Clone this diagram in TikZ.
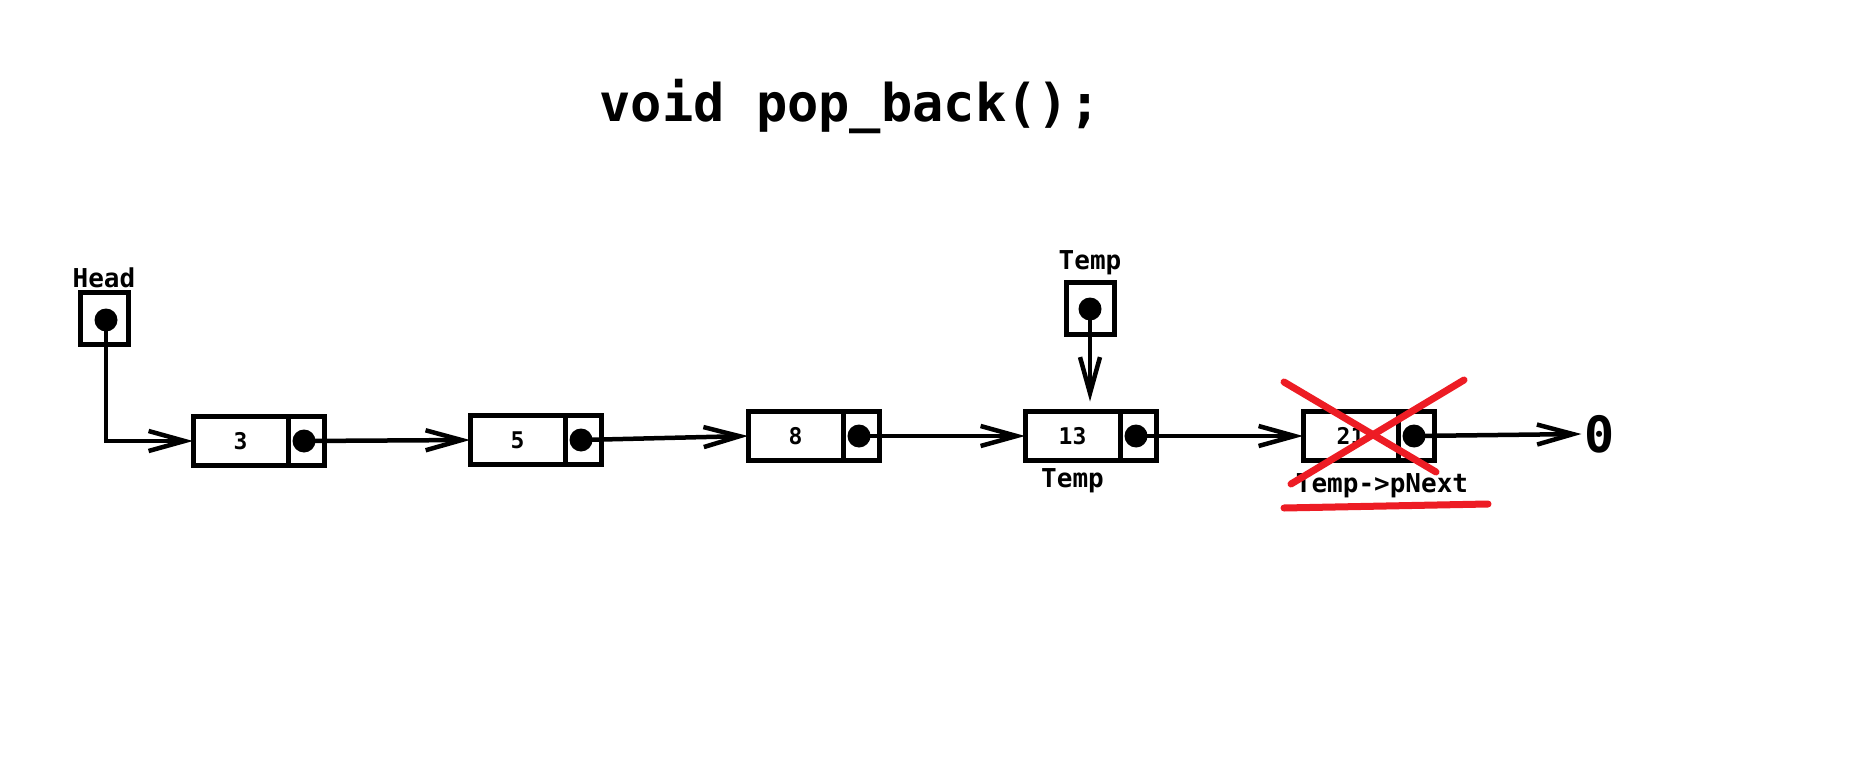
\documentclass[tikz,border=0pt]{standalone}
\usepackage{fontspec}
\setmainfont{DejaVu Sans Mono}
\usetikzlibrary{positioning,arrows.meta}
\definecolor{xred}{RGB}{237,28,36}

\begin{document}
\begin{tikzpicture}[x=1pt,y=-1pt,
    val/.style={draw,line width=5pt,minimum width=95pt,minimum height=49pt,inner sep=0pt,outer sep=0pt,font=\fontsize{23}{23}\selectfont\bfseries},
    ptr/.style={draw,line width=5pt,minimum width=36pt,minimum height=49pt,inner sep=0pt,outer sep=0pt},
    lbl/.style={font=\fontsize{26}{26}\selectfont\bfseries,inner sep=2pt},
    dotc/.style={circle,fill,minimum size=23pt,inner sep=0pt},
    link/.style={line width=4.5pt,-{Straight Barb[length=36pt,width=20pt,line width=4.5pt]}},
    cross/.style={line width=7pt,xred,line cap=round}]
  \useasboundingbox (0,0) rectangle (1876,778);
  \node[font=\fontsize{52}{52}\selectfont\bfseries] (title) at (850,106) {void pop\_back();};
  % list nodes
  \foreach \v/\x/\y in {3/193/441,5/470/440,8/748/436,13/1025/436,21/1303/436}{
    \node[val,anchor=west] (v\v) at (\x,\y) {\v};
    \node[ptr,anchor=west] (p\v) at (v\v.east) {};
    \node[dotc] (d\v) at ([xshift=-2pt]p\v.center) {};
  }
  \foreach \a/\b in {3/5,5/8,8/13,13/21}
    \draw[link] (d\a.center) -- (v\b.west);
  \node[font=\fontsize{50}{50}\selectfont\bfseries] (zero) at (1600,434) {0};
  \draw[link] (d21.center) -- (zero.west);
  % head pointer
  \node[ptr,minimum width=48pt,minimum height=52pt] (headbox) at (104,318) {};
  \node[dotc] (headdot) at (106,320) {};
  \node[lbl,above=2pt of headbox] (head) {Head};
  \draw[link] (headdot.center) |- (v3.west);
  % temp pointer
  \node[ptr,minimum width=48pt,minimum height=52pt] (tempbox) at (1090,308) {};
  \node[dotc] (tempdot) at (1090,309) {};
  \node[lbl,above=5pt of tempbox] (temptop) {Temp};
  \draw[link,shorten >=10pt] (tempdot.center) -- (tempdot.center |- v13.north);
  \node[lbl,below=6pt of v13] (tempbot) {Temp};
  \node[lbl] (tempnext) at (1382,486) {Temp->pNext};
  % removed node
  \draw[cross] (1284,382) -- (1436,472);
  \draw[cross] (1464,380) -- (1291,484);
  \draw[cross] (1284,508) -- (1488,504);
\end{tikzpicture}
\end{document}
